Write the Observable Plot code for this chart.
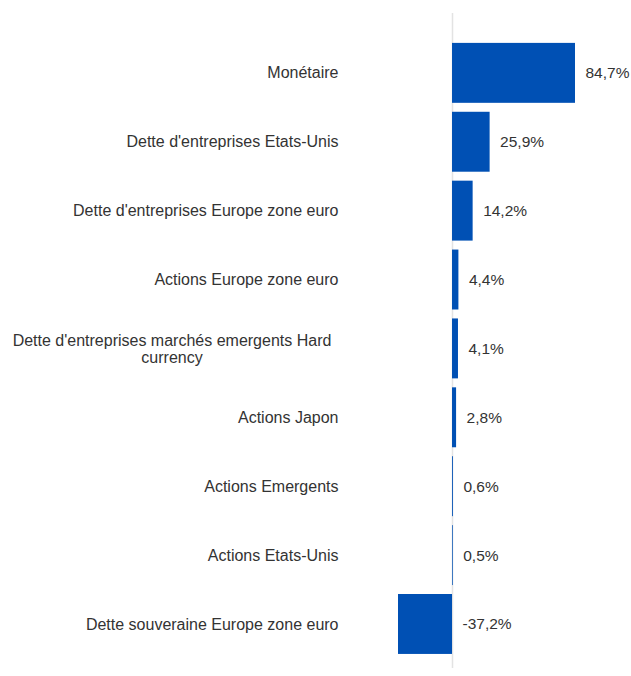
<!DOCTYPE html>
<html>
<head>
<meta charset="utf-8">
<script src="https://cdn.jsdelivr.net/npm/d3@7"></script>
<script src="https://cdn.jsdelivr.net/npm/@observablehq/plot@0.6"></script>
<style>
  html, body { margin: 0; padding: 0; background: #fff; }
  #chart { width: 631px; height: 676px; }
</style>
</head>
<body>
<div id="chart"></div>
<script>
const categories = [
  "Monétaire",
  "Dette d'entreprises Etats-Unis",
  "Dette d'entreprises Europe zone euro",
  "Actions Europe zone euro",
  "Dette d'entreprises marchés emergents Hard currency",
  "Actions Japon",
  "Actions Emergents",
  "Actions Etats-Unis",
  "Dette souveraine Europe zone euro"
];
const values = [84.7, 25.9, 14.2, 4.4, 4.1, 2.8, 0.6, 0.5, -37.2];
const tickLabels = [
  "Monétaire",
  "Dette d'entreprises Etats-Unis",
  "Dette d'entreprises Europe zone euro",
  "Actions Europe zone euro",
  "Dette d'entreprises marchés emergents Hard\ncurrency",
  "Actions Japon",
  "Actions Emergents",
  "Actions Etats-Unis",
  "Dette souveraine Europe zone euro"
];

const data = categories.map((c, i) => ({cat: c, value: values[i], label: tickLabels[i]}));
const single = data.filter(d => !d.label.includes("\n"));
const multi = data.filter(d => d.label.includes("\n"));
const fmt = v => v.toFixed(1).replace(".", ",") + "%";

const chart = Plot.plot({
  width: 631,
  height: 676,
  marginLeft: 398,
  marginRight: 56,
  marginTop: 13,
  marginBottom: 8,
  style: {fontFamily: "'Liberation Sans', Arial, sans-serif", fontSize: "16px", color: "#333", background: "#fff"},
  x: {domain: [-37.2, 84.7], axis: null},
  y: {domain: categories, axis: null, round: false, paddingInner: 0.13, paddingOuter: 0.319, align: 0.68},
  marks: [
    Plot.ruleX([0], {stroke: "#e3e3e3", strokeWidth: 1.5}),
    Plot.barX(data, {x: "value", y: "cat", fill: "#0050B4"}),
    Plot.text(data, {x: d => Math.max(d.value, 0), y: "cat", text: d => fmt(d.value), textAnchor: "start", dx: 10, fill: "#333", fontSize: 15.5}),
    Plot.text(single, {y: "cat", frameAnchor: "left", text: "label", textAnchor: "end", dx: -60, fill: "#333", fontSize: 16}),
    Plot.text(multi, {y: "cat", frameAnchor: "left", text: "label", textAnchor: "middle", dx: -226.5, lineHeight: 1.08, fill: "#333", fontSize: 16})
  ]
});
document.getElementById("chart").appendChild(chart);
</script>
</body>
</html>
